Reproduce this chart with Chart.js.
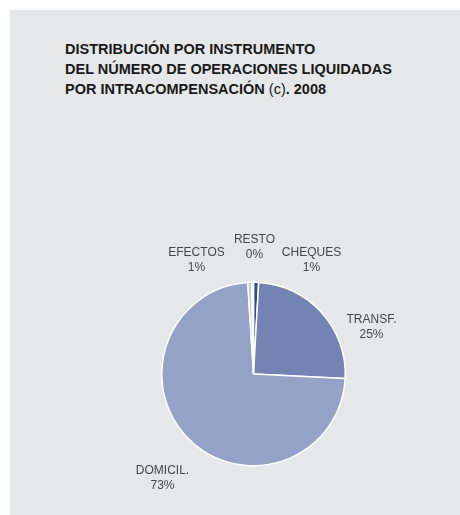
<!DOCTYPE html>
<html>
<head>
<meta charset="utf-8">
<script src="https://cdn.jsdelivr.net/npm/chart.js@4"></script>
<style>
  body { margin: 0; background: #fff; width: 460px; height: 515px; overflow: hidden; position: relative; }
  #panel { position: absolute; left: 10px; top: 10px; width: 450px; height: 505px; background: #e6e7e8; }
  #title { position: absolute; left: 65px; top: 39px; font: bold 14.5px "Liberation Sans", Arial, sans-serif; line-height: 20px; color: #1a1a1a; }
  #title span { font-weight: normal; }
  #chart { position: absolute; left: 0; top: 0; }
</style>
</head>
<body>
<div id="panel"></div>
<div id="title">DISTRIBUCIÓN POR INSTRUMENTO<br>DEL NÚMERO DE OPERACIONES LIQUIDADAS<br>POR INTRACOMPENSACIÓN <span>(c)</span>. 2008</div>
<canvas id="chart" width="460" height="515"></canvas>
<script>
// data, clockwise from 12 o'clock
var categories = ['CHEQUES', 'TRANSF.', 'DOMICIL.', 'EFECTOS', 'RESTO']
var shares = [0.9, 24.9, 73.2, 0.7, 0.3]
var shareLabels = ['1%', '25%', '73%', '1%', '0%']

var sliceColors = ['#2c4a8f', '#7283b4', '#95a2c8', '#c6cbd9', '#dfe2ea']
// label text centre, relative to pie centre
var labelOffsets = [[58, -121], [118, -54], [-91, 97], [-57, -121], [1, -134]]

var labelPlugin = {
  id: 'sliceLabels',
  afterDraw: function(chart) {
    var ctx = chart.ctx
    var arc = chart.getDatasetMeta(0).data[0]
    ctx.save()
    ctx.fillStyle = '#474747'
    ctx.font = '12px "Liberation Sans", Arial, sans-serif'
    ctx.textAlign = 'center'
    ctx.textBaseline = 'middle'
    categories.forEach(function(name, i) {
      var x = arc.x + labelOffsets[i][0]
      var y = arc.y + labelOffsets[i][1]
      ctx.fillText(name, x, y)
      ctx.fillText(shareLabels[i], x, y + 15)
    })
    ctx.restore()
  }
}

new Chart(document.getElementById('chart'), {
  type: 'pie',
  data: {
    labels: categories,
    datasets: [{
      data: shares,
      backgroundColor: sliceColors,
      borderColor: '#ffffff',
      borderWidth: 1.5
    }]
  },
  options: {
    responsive: false,
    animation: false,
    layout: { padding: { left: 161, right: 114, top: 281.5, bottom: 48.5 } },
    plugins: { legend: { display: false }, tooltip: { enabled: false } }
  },
  plugins: [labelPlugin]
})
</script>
</body>
</html>
